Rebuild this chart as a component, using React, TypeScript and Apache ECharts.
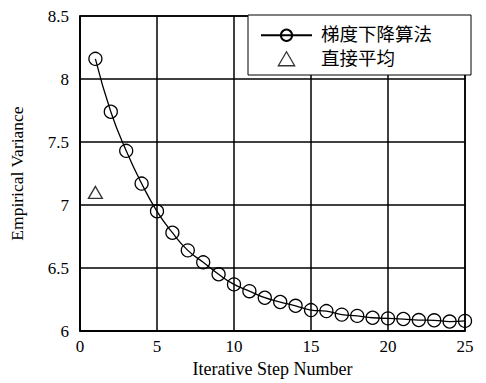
import React, { useEffect, useRef } from "react";
import * as echarts from "echarts";

const steps = [1, 2, 3, 4, 5, 6, 7, 8, 9, 10, 11, 12, 13, 14, 15, 16, 17, 18, 19, 20, 21, 22, 23, 24, 25];
const gradientValues = [8.16, 7.74, 7.43, 7.17, 6.95, 6.78, 6.64, 6.545, 6.45, 6.37, 6.316, 6.264, 6.23, 6.2, 6.166, 6.158, 6.13, 6.12, 6.105, 6.1, 6.095, 6.087, 6.085, 6.075, 6.08];
const directStep = [1];
const directValues = [7.1];
const seriesNames = ["梯度下降算法", "直接平均"];
const xAxisName = "Iterative Step Number";
const yAxisName = "Empirical Variance";

const serif = "Liberation Serif";
const cjk = "'Liberation Serif', 'Noto Sans CJK SC'";

export default function App() {
  const ref = useRef<HTMLDivElement>(null);
  useEffect(() => {
    if (!ref.current) return;
    const chart = echarts.init(ref.current, undefined, { renderer: "svg" });
    chart.setOption({
      animation: false,
      backgroundColor: "#fff",
      textStyle: { fontFamily: serif, color: "#000" },
      grid: {
        left: 80,
        right: 21,
        top: 16,
        bottom: 51,
        show: true,
        borderColor: "#000",
        borderWidth: 1.5,
      },
      legend: {
        orient: "vertical",
        left: 248,
        top: 15,
        padding: [11, 39, 7, 12],
        itemGap: 5,
        itemWidth: 51,
        itemHeight: 14,
        symbolKeepAspect: true,
        backgroundColor: "#fff",
        borderColor: "#000",
        borderWidth: 1,
        textStyle: { fontFamily: cjk, fontSize: 18.5, color: "#000", padding: [0, 0, 0, 4] },
        data: [
          { name: seriesNames[0] },
          {
            name: seriesNames[1],
            icon: "path://M7,0L14,12L0,12Z",
            itemStyle: { color: "rgba(0,0,0,0)", borderColor: "#000", borderWidth: 1.3 },
          },
        ],
      },
      xAxis: {
        type: "value",
        min: 0,
        max: 25,
        interval: 5,
        name: xAxisName,
        nameLocation: "middle",
        nameGap: 29,
        nameTextStyle: { fontFamily: serif, fontSize: 18, color: "#000" },
        axisLine: { show: true, lineStyle: { color: "#000", width: 1.5 } },
        axisTick: { show: false },
        axisLabel: { fontFamily: serif, fontSize: 17, color: "#000", margin: 7 },
        splitLine: { show: true, lineStyle: { color: "#000", width: 1.5 } },
      },
      yAxis: {
        type: "value",
        min: 6,
        max: 8.5,
        interval: 0.5,
        name: yAxisName,
        nameLocation: "middle",
        nameGap: 54,
        nameTextStyle: { fontFamily: serif, fontSize: 17.5, color: "#000" },
        axisLine: { show: true, lineStyle: { color: "#000", width: 1.5 } },
        axisTick: { show: false },
        axisLabel: {
          fontFamily: serif,
          fontSize: 17,
          color: "#000",
          margin: 11,
          formatter: (v: number) => String(v),
        },
        splitLine: { show: true, lineStyle: { color: "#000", width: 1.5 } },
      },
      series: [
        {
          name: seriesNames[0],
          type: "line",
          smooth: true,
          data: steps.map((s, i) => [s, gradientValues[i]]),
          symbol: "circle",
          symbolSize: 13,
          itemStyle: { color: "rgba(0,0,0,0)", borderColor: "#000", borderWidth: 1.3 },
          lineStyle: { color: "#000", width: 1.3 },
          z: 3,
        },
        {
          name: seriesNames[1],
          type: "scatter",
          data: directStep.map((s, i) => [s, directValues[i]]),
          symbol: "triangle",
          symbolSize: [14, 12],
          itemStyle: { color: "rgba(0,0,0,0)", borderColor: "#000", borderWidth: 1.3 },
          z: 3,
        },
      ],
    });
    return () => chart.dispose();
  }, []);
  return (
    <div
      ref={ref}
      style={{ position: "fixed", left: 0, top: 0, width: 486, height: 383, background: "#fff" }}
    />
  );
}
